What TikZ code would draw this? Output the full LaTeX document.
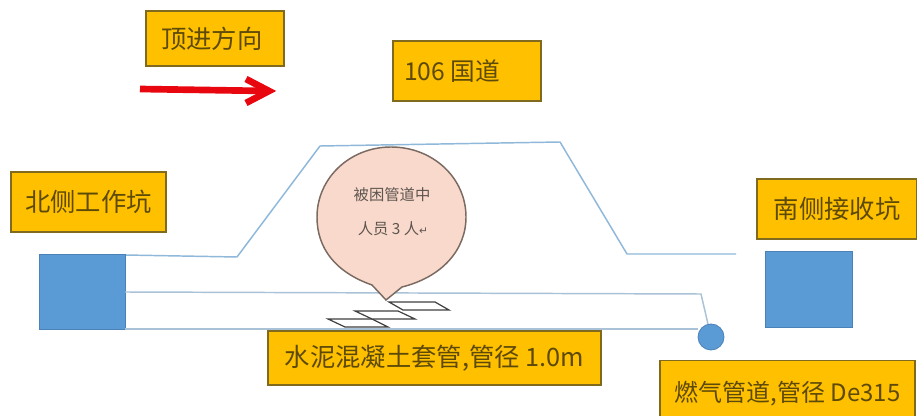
\documentclass[tikz,border=0pt]{standalone}
\usepackage{fontspec}
\setmainfont{Noto Sans CJK SC}
\newfontfamily\symfont{DejaVu Sans}
\definecolor{boxfill}{HTML}{FFC000}
\definecolor{boxedge}{HTML}{7F6A1E}
\definecolor{boxtext}{HTML}{5E4A08}
\definecolor{bluefill}{HTML}{5B9BD5}
\definecolor{blueedge}{HTML}{4A82B8}
\definecolor{road}{HTML}{8FB8DA}
\definecolor{pipe}{HTML}{A9C2D8}
\definecolor{bubblefill}{HTML}{F8D9CB}
\definecolor{bubbleedge}{HTML}{7A6A62}
\definecolor{bubbletext}{HTML}{5F5550}
\definecolor{arrowred}{HTML}{E8060F}
\tikzset{
  x=0.75pt,y=-0.75pt,
  labelbox/.style={draw=boxedge,line width=1.1pt,fill=boxfill,text=boxtext,font=\fontsize{19}{22}\selectfont,inner sep=0pt,anchor=center},
  roadline/.style={draw=road,line width=1.1pt},
  pipeline/.style={draw=pipe,line width=1.1pt},
  pit/.style={draw=blueedge,fill=bluefill,line width=0.6pt,inner sep=0pt},
  plate/.style={draw=black!75,fill=white,line width=0.9pt},
}
\begin{document}
\begin{tikzpicture}
\useasboundingbox (0,0) rectangle (917,416);
\clip (0,0) rectangle (917,416);
\fill[white] (0,0) rectangle (917,416);
% road
\draw[roadline,line join=round] (125,255) -- (237,257) -- (320,146) -- (560,142) -- (627,254) -- (736,254);
% pits
\node[pit,minimum width=64.5pt,minimum height=56.25pt] (northpit) at (82,291.5) {};
\node[pit,minimum width=65.25pt,minimum height=57pt] (southpit) at (808.5,289) {};
\node[pit,circle,minimum size=19.5pt] (gas) at (711,337) {};
% pipe
\coordinate (pipeA) at (125,292);
\coordinate (pipeB) at (701,294);
\coordinate (pipeC) at (125,329);
\coordinate (pipeD) at (698,329);
\draw[pipeline] (pipeA) -- (pipeB) -- (gas);
\draw[pipeline] (pipeC) -- (pipeD);
% plates
\draw[plate] (328,319) -- (372,319) -- (388,327) -- (345,327) -- cycle;
\draw[plate] (355,311) -- (398,311) -- (415,319) -- (372,319) -- cycle;
\draw[plate] (389,302) -- (435,302) -- (449,310) -- (403,310) -- cycle;
% bubble
\draw[draw=bubbleedge,fill=bubblefill,line width=1.1pt]
  (372,285) .. controls (335,272) and (317,248) .. (317,217)
  .. controls (317,178) and (350,147) .. (391,147)
  .. controls (433,147) and (466,178) .. (466,217)
  .. controls (466,250) and (442,277) .. (402,287)
  -- (386,300) -- cycle;
\node[text=bubbletext,font=\fontsize{11.5}{13}\selectfont,inner sep=0pt] (t1) at (392,195) {被困管道中};
\node[text=bubbletext,font=\fontsize{11.5}{13}\selectfont,inner sep=0pt] (t2) at (393,229) {人员 3 人{\symfont\fontsize{8}{10}\selectfont ↵}};
% labels
\node[labelbox,minimum width=103.5pt,minimum height=41.25pt] (dir) at (215,38.5) {\hspace*{-0.25em}顶进方向};
\node[labelbox,minimum width=111pt,minimum height=45pt,font=\fontsize{18.5}{22}\selectfont] (road) at (467,71) {\hspace*{-1.2em}106 国道};
\node[labelbox,minimum width=116.25pt,minimum height=45pt] (north) at (88.5,202) {北侧工作坑};
\node[labelbox,minimum width=120pt,minimum height=45pt] (south) at (837,209) {南侧接收坑};
\node[labelbox,minimum width=249.75pt,minimum height=40.5pt] (cement) at (434.5,358) {水泥混凝土套管,管径 1.0m};
\node[labelbox,minimum width=191.25pt,minimum height=50pt,font=\fontsize{18}{22}\selectfont] (gaslabel) at (787.5,394) {燃气管道,管径 De315};
% arrow
\coordinate (arrowS) at (140,89);
\coordinate (arrowE) at (269,91);
\draw[arrowred,line width=5pt] (arrowS) -- (arrowE);
\draw[arrowred,line width=5pt,line join=miter] (246,79) -- (arrowE) -- (246,103);
\end{tikzpicture}
\end{document}
